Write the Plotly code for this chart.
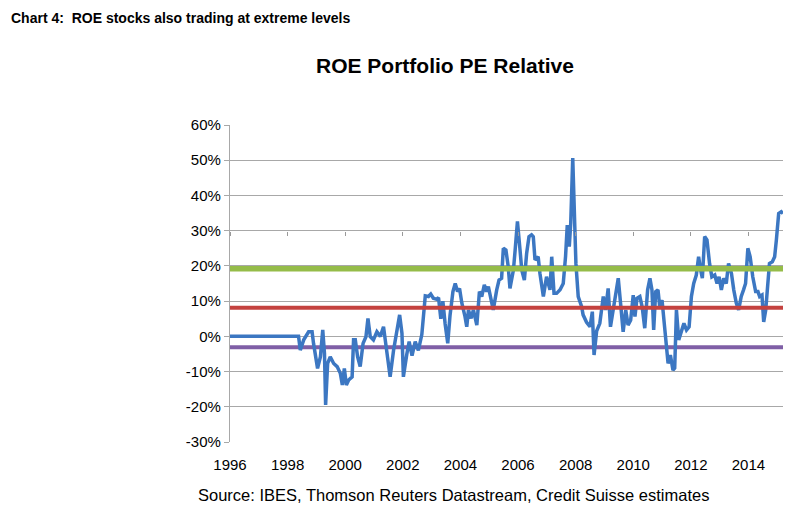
import plotly.graph_objects as go

# ROE portfolio PE relative (decimal years, %)
years = [1996.00, 1998.38, 1998.44, 1998.56, 1998.73, 1998.85, 1998.90, 1999.04, 1999.14, 1999.22,
         1999.28, 1999.32, 1999.39, 1999.48, 1999.60, 1999.72, 1999.83, 1999.90, 1999.97, 2000.04,
         2000.12, 2000.24, 2000.29, 2000.35, 2000.43, 2000.52, 2000.62, 2000.72, 2000.79, 2000.87,
         2000.98, 2001.10, 2001.22, 2001.33, 2001.39, 2001.50, 2001.56, 2001.68, 2001.80, 2001.89,
         2001.97, 2002.02, 2002.14, 2002.22, 2002.32, 2002.43, 2002.54, 2002.66, 2002.78, 2002.89,
         2002.97, 2003.06, 2003.18, 2003.24, 2003.32, 2003.39, 2003.47, 2003.56, 2003.64, 2003.74,
         2003.82, 2003.90, 2003.97, 2004.05, 2004.16, 2004.22, 2004.28, 2004.37, 2004.45, 2004.57,
         2004.66, 2004.74, 2004.83, 2004.91, 2004.97, 2005.09, 2005.14, 2005.26, 2005.34, 2005.43,
         2005.49, 2005.58, 2005.66, 2005.72, 2005.84, 2005.90, 2005.98, 2006.07, 2006.13, 2006.22,
         2006.30, 2006.38, 2006.47, 2006.53, 2006.59, 2006.70, 2006.76, 2006.88, 2006.99, 2007.11,
         2007.17, 2007.25, 2007.34, 2007.46, 2007.57, 2007.65, 2007.71, 2007.78, 2007.83, 2007.90,
         2007.95, 2008.01, 2008.09, 2008.21, 2008.26, 2008.38, 2008.50, 2008.58, 2008.64, 2008.73,
         2008.84, 2008.96, 2009.04, 2009.13, 2009.21, 2009.30, 2009.40, 2009.48, 2009.56, 2009.65,
         2009.74, 2009.82, 2009.91, 2010.00, 2010.06, 2010.13, 2010.23, 2010.31, 2010.40, 2010.50,
         2010.58, 2010.65, 2010.71, 2010.78, 2010.86, 2010.92, 2011.00, 2011.06, 2011.13, 2011.21,
         2011.29, 2011.38, 2011.44, 2011.50, 2011.58, 2011.67, 2011.76, 2011.85, 2011.94, 2012.02,
         2012.10, 2012.19, 2012.27, 2012.33, 2012.40, 2012.48, 2012.56, 2012.65, 2012.73, 2012.83,
         2012.91, 2012.98, 2013.06, 2013.14, 2013.23, 2013.31, 2013.41, 2013.49, 2013.58, 2013.66,
         2013.75, 2013.83, 2013.90, 2013.98, 2014.06, 2014.15, 2014.25, 2014.33, 2014.39, 2014.47,
         2014.53, 2014.60, 2014.65, 2014.73, 2014.83, 2014.91, 2014.97, 2015.05, 2015.14, 2015.20]
pe_relative = [0.0, 0.0, -3.9, -1.0, 1.3, 1.3, -2.0, -9.1, -5.8, 1.8,
               -4.8, -19.5, -7.7, -5.8, -7.7, -8.6, -10.5, -13.8, -9.1, -13.8,
               -12.4, -11.5, -1.0, -1.0, -5.8, -8.6, -2.0, -0.1, 5.1, -0.1,
               -1.0, 1.3, 0.0, 2.7, -1.0, -7.7, -11.5, -3.9, 1.8, 6.1,
               0.9, -11.5, -5.0, -1.5, -5.5, -1.5, -4.0, 0.5, 11.5, 11.3,
               12.0, 10.8, 10.5, 11.0, 5.0, 10.0, 3.5, -2.0, 6.0, 12.7,
               15.0, 12.7, 13.6, 9.4, 5.6, 2.7, 7.5, 5.1, 7.5, 3.2,
               12.7, 11.3, 14.6, 12.7, 14.1, 9.4, 7.5, 13.2, 16.0, 16.5,
               25.0, 24.5, 19.8, 13.6, 18.8, 24.5, 32.6, 24.5, 18.8, 16.0,
               23.6, 28.3, 28.8, 28.3, 21.7, 22.6, 17.9, 11.3, 16.9, 13.2,
               22.6, 12.2, 12.2, 13.2, 15.0, 22.6, 31.6, 25.5, 32.1, 50.6,
               33.0, 20.7, 11.3, 8.4, 6.1, 4.0, 2.7, 7.0, -5.3, 1.5,
               3.7, 11.3, 7.5, 13.6, 2.7, 7.5, 11.3, 16.5, 9.4, 1.3,
               7.5, 3.2, 4.6, 11.7, 5.6, 10.8, 11.3, 8.4, 2.3, 13.2,
               16.5, 13.2, 1.8, 12.7, 13.2, 8.4, 10.3, 5.6, -2.0, -7.7,
               -5.3, -9.6, -9.0, 7.5, -1.0, 1.3, 3.7, 1.8, 2.7, 11.3,
               15.0, 17.4, 22.6, 19.3, 16.5, 28.3, 27.4, 20.7, 16.9, 17.4,
               15.0, 16.9, 13.2, 16.5, 15.0, 20.7, 17.9, 13.2, 9.4, 7.5,
               11.3, 13.2, 15.0, 25.0, 22.6, 16.9, 12.7, 12.7, 11.3, 11.7,
               4.1, 7.5, 14.1, 20.7, 21.2, 22.6, 27.4, 34.9, 35.4, 34.9]

# Reference levels (%)
band_span = [1996.0, 2015.2]
upper_level = 19.2
mean_level = 8.1
lower_level = -3.1

y_ticks = [-30, -20, -10, 0, 10, 20, 30, 40, 50, 60]
x_ticks = [1996, 1998, 2000, 2002, 2004, 2006, 2008, 2010, 2012, 2014]

fig = go.Figure()
fig.add_trace(go.Scatter(x=band_span, y=[lower_level] * 2, mode="lines",
                         line=dict(color="#7F5FA6", width=4), hoverinfo="skip"))
fig.add_trace(go.Scatter(x=years, y=pe_relative, mode="lines",
                         line=dict(color="#3C77C2", width=3.5)))
fig.add_trace(go.Scatter(x=band_span, y=[mean_level] * 2, mode="lines",
                         line=dict(color="#C4423F", width=4), hoverinfo="skip"))
fig.add_trace(go.Scatter(x=band_span, y=[upper_level] * 2, mode="lines",
                         line=dict(color="#95BC49", width=5.5), hoverinfo="skip"))
# Excel-style category axis crossing at 0 with small ticks
fig.add_trace(go.Scatter(x=band_span, y=[0, 0], xaxis="x2", mode="lines",
                         line=dict(width=0), hoverinfo="skip", showlegend=False))

fig.update_layout(
    width=800, height=524,
    margin=dict(l=229.5, r=16.7, t=125, b=82.3),
    paper_bgcolor="white", plot_bgcolor="white",
    showlegend=False,
    font=dict(family="Liberation Sans, Arial, sans-serif", color="#000000"),
    xaxis=dict(range=[1996, 2015.2], tickvals=x_ticks, ticktext=[str(v) for v in x_ticks],
               showgrid=False, zeroline=False, showline=False, ticks="",
               ticklabelstandoff=12,
               tickfont=dict(size=15, color="#000000")),
    xaxis2=dict(range=[1996, 2015.2], overlaying="x", anchor="free", position=60 / 90,
                tickvals=x_ticks, showticklabels=False, ticks="outside", ticklen=4,
                tickcolor="#9a9a9a", tickwidth=1.2, showgrid=False, zeroline=False,
                showline=False),
    yaxis=dict(range=[-30, 60], tickvals=y_ticks, ticktext=[f"{v}%" for v in y_ticks],
               showgrid=True, gridcolor="#a8a8a8", gridwidth=1.3,
               zeroline=False, showline=True, linecolor="#a8a8a8", linewidth=1.3,
               ticks="outside", ticklen=5, tickcolor="#a8a8a8", tickwidth=1.3,
               tickfont=dict(size=15, color="#000000")),
)

fig.add_annotation(text="<b>Chart 4:  ROE stocks also trading at extreme levels</b>",
                   xref="paper", yref="paper", x=(-229.5 + 8) / 553.8, y=1 + 107 / 316.7,
                   xanchor="left", yanchor="middle", showarrow=False,
                   font=dict(size=14))
fig.add_annotation(text="<b>ROE Portfolio PE Relative</b>",
                   xref="paper", yref="paper", x=(445 - 229.5) / 553.8, y=1 + 59 / 316.7,
                   xanchor="center", yanchor="middle", showarrow=False,
                   font=dict(size=21))
fig.add_annotation(text="Source: IBES, Thomson Reuters Datastream, Credit Suisse estimates",
                   xref="paper", yref="paper", x=(453 - 229.5) / 553.8, y=-(495 - 441.7) / 316.7,
                   xanchor="center", yanchor="middle", showarrow=False,
                   font=dict(size=16.5))

fig.write_html("out.html")
